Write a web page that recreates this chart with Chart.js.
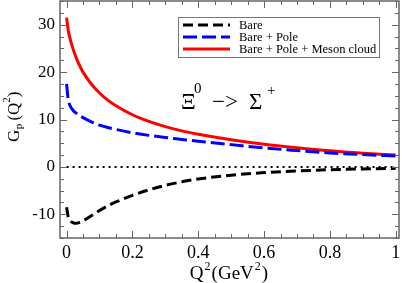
<!DOCTYPE html>
<html>
<head>
<meta charset="utf-8">
<script src="https://cdn.jsdelivr.net/npm/chart.js@4/dist/chart.umd.min.js"></script>
<style>
  html, body { margin: 0; padding: 0; background: #fff; }
  #wrap { width: 402px; height: 283px; }
</style>
</head>
<body>
<div id="wrap"><canvas id="gp" width="402" height="283"></canvas></div>
<script>
// Q^2 (GeV^2) sample points, shared by all three curves
var q2 = [0, 0.005, 0.01, 0.02, 0.03, 0.04, 0.05, 0.075, 0.1, 0.125, 0.15, 0.2, 0.25, 0.3, 0.35, 0.4, 0.5, 0.6, 0.7, 0.8, 0.9, 1.0];
var bare =      [-8.5, -10.6, -11.3, -11.8, -11.9, -11.7, -11.4, -10.3, -9.2, -8.2, -7.4, -6.0, -4.85, -3.9, -3.15, -2.55, -1.75, -1.2, -0.85, -0.6, -0.42, -0.3];
var barePole =  [17.5, 14.2, 13.0, 11.9, 11.3, 10.8, 10.4, 9.5, 8.8, 8.3, 7.9, 7.2, 6.65, 6.2, 5.8, 5.4, 4.7, 4.0, 3.45, 2.95, 2.6, 2.3];
var poleMeson = [31.5, 28.8, 27.2, 24.8, 22.9, 21.3, 20.0, 17.5, 15.6, 14.1, 12.9, 11.0, 9.6, 8.5, 7.6, 6.9, 5.75, 4.8, 4.05, 3.4, 2.9, 2.5];
var zeroLine = [[0, 0], [1, 0]];

var seriesNames = ["Bare", "Bare + Pole", "Bare + Pole + Meson cloud"];
var xTicks = [0, 0.2, 0.4, 0.6, 0.8, 1];
var yTicks = [-10, 0, 10, 20, 30];

function pts(ys) {
  return q2.map(function (x, i) { return { x: x, y: ys[i] }; });
}

var serif = "'Liberation Serif', serif";

// frame with inward ticks on all four sides (xmgrace style)
var framePlugin = {
  id: "frame",
  afterDatasetsDraw: function (chart) {
    var c = chart.ctx, a = chart.chartArea;
    var xs = chart.scales.x, ys = chart.scales.y;
    c.save();
    c.strokeStyle = "#666";
    c.lineWidth = 1.5;
    c.strokeRect(a.left, a.top, a.right - a.left, a.bottom - a.top);
    c.lineWidth = 1;
    var v, p, len;
    for (v = 0; v <= 1.0001; v += 0.05) {
      p = Math.round(xs.getPixelForValue(v)) + 0.5;
      len = (Math.abs(v / 0.2 - Math.round(v / 0.2)) < 0.01) ? 7 : 4;
      c.beginPath();
      c.moveTo(p, a.bottom); c.lineTo(p, a.bottom - len);
      c.moveTo(p, a.top); c.lineTo(p, a.top + len);
      c.stroke();
    }
    for (v = -15; v <= 35; v += 2.5) {
      p = Math.round(ys.getPixelForValue(v)) + 0.5;
      len = (v % 10 === 0) ? 7 : 4;
      c.beginPath();
      c.moveTo(a.left, p); c.lineTo(a.left + len, p);
      c.moveTo(a.right, p); c.lineTo(a.right - len, p);
      c.stroke();
    }
    c.restore();
  }
};

// text pieces with super/subscripts: [text, fontSize, dy]
function drawPieces(c, pieces, x, y) {
  pieces.forEach(function (p) {
    c.font = p[1] + "px " + serif;
    c.fillText(p[0], x, y + p[2]);
    x += c.measureText(p[0]).width + (p[3] || 0);
  });
}
function piecesWidth(c, pieces) {
  var w = 0;
  pieces.forEach(function (p) {
    c.font = p[1] + "px " + serif;
    w += c.measureText(p[0]).width + (p[3] || 0);
  });
  return w;
}

// legend box, reaction label, axis titles
var textPlugin = {
  id: "texts",
  afterDraw: function (chart) {
    var c = chart.ctx;
    var ds = chart.data.datasets;
    c.save();
    // legend
    c.fillStyle = "#fff";
    c.fillRect(178, 17, 201, 40);
    c.strokeStyle = "#777";
    c.lineWidth = 1;
    c.strokeRect(178.5, 17.5, 201, 40);
    c.font = "12.5px " + serif;
    c.textBaseline = "middle";
    for (var i = 0; i < 3; i++) {
      var y = 25 + i * 12;
      c.beginPath();
      c.strokeStyle = ds[i].borderColor;
      c.lineWidth = 3;
      c.setLineDash(ds[i].borderDash || []);
      c.moveTo(183, y); c.lineTo(230, y);
      c.stroke();
      c.setLineDash([]);
      c.fillStyle = "#000";
      c.fillText(seriesNames[i], 239, y + 1);
    }
    // reaction label
    c.textBaseline = "alphabetic";
    c.fillStyle = "#000";
    c.font = "23px " + serif;
    c.fillText("\u039E", 181, 109);
    c.fillText("\u2212>", 212, 109);
    c.fillText("\u03A3", 249, 109);
    c.font = "15px " + serif;
    c.fillText("0", 194, 93);
    c.fillText("+", 267, 95);
    // x title
    var xt = [["Q", 19, 0, 1], ["2", 12, -9, 1], ["(GeV", 19, 0, 1], ["2", 12, -9, 1], [")", 19, 0]];
    drawPieces(c, xt, 229 - piecesWidth(c, xt) / 2, 279);
    // y title, rotated
    c.translate(19, 142);
    c.rotate(-Math.PI / 2);
    drawPieces(c, [["G", 17, 0], ["P", 11, 5, 3], ["(Q", 17, 0], ["2", 11, -9], [")", 17, 0]], 0, 0);
    c.restore();
  }
};

function draw() {
  Chart.defaults.font.family = serif;
  var ctx = document.getElementById("gp");
  var gpChart = new Chart(ctx, {
    type: "line",
    data: {
      datasets: [
        { label: seriesNames[0], data: pts(bare), borderColor: "#000", borderWidth: 3, borderDash: [10, 5] },
        { label: seriesNames[1], data: pts(barePole), borderColor: "#0000ff", borderWidth: 3, borderDash: [14, 5] },
        { label: seriesNames[2], data: pts(poleMeson), borderColor: "#ff0000", borderWidth: 3 },
        { label: "zero", data: zeroLine.map(function (p) { return { x: p[0], y: p[1] }; }),
          borderColor: "#000", borderWidth: 2, borderDash: [2, 4], cubicInterpolationMode: "default", tension: 0 }
      ]
    },
    options: {
      responsive: false,
      animation: false,
      layout: { padding: { left: 0, right: 3, top: 1, bottom: 0 } },
      elements: {
        point: { radius: 0 },
        line: { cubicInterpolationMode: "monotone", fill: false }
      },
      plugins: { legend: { display: false }, tooltip: { enabled: false } },
      scales: {
        x: {
          type: "linear", min: -0.02, max: 1.01,
          grid: { display: false, drawTicks: false }, border: { display: false },
          afterBuildTicks: function (s) { s.ticks = xTicks.map(function (v) { return { value: v }; }); },
          afterFit: function (s) { s.height = 45; s.paddingLeft = 0; s.paddingRight = 0; },
          ticks: { color: "#000", font: { family: serif, size: 18 }, padding: 4, maxRotation: 0,
            callback: function (v) { return String(v); } }
        },
        y: {
          type: "linear", min: -15, max: 35,
          grid: { display: false, drawTicks: false }, border: { display: false },
          afterBuildTicks: function (s) { s.ticks = yTicks.map(function (v) { return { value: v }; }); },
          afterFit: function (s) { s.width = 60; s.paddingTop = 0; s.paddingBottom = 0; },
          ticks: { color: "#000", font: { family: serif, size: 17 }, padding: 5,
            callback: function (v) { return String(v); } }
        }
      }
    },
    plugins: [framePlugin, textPlugin]
  });
}

if (document.fonts && document.fonts.load) {
  document.fonts.load("17px 'Liberation Serif'").then(draw, draw);
} else {
  draw();
}
</script>
</body>
</html>
